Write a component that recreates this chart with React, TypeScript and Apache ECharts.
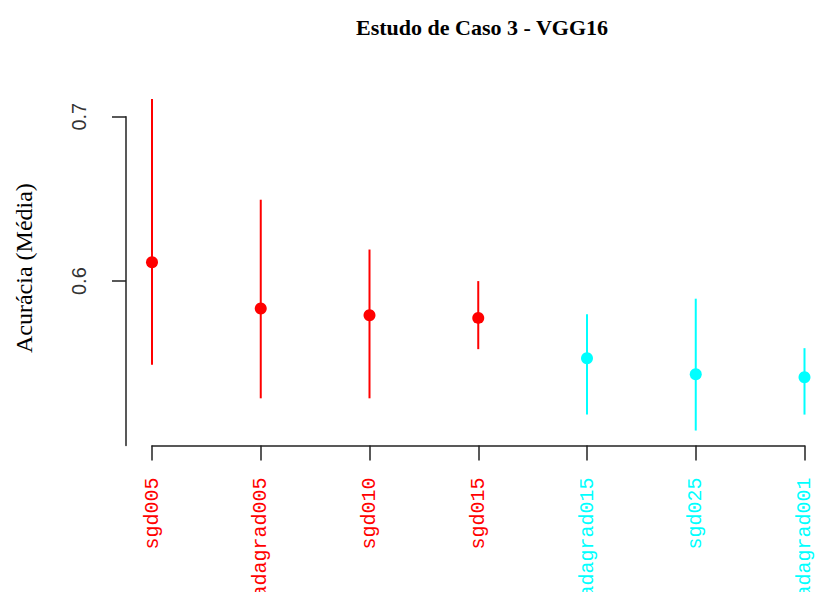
import React, { useEffect, useRef } from "react";
import * as echarts from "echarts";

const categories = ["sgd005", "adagrad005", "sgd010", "sgd015", "adagrad015", "sgd025", "adagrad001"];
const groups = ["red", "red", "red", "red", "cyan", "cyan", "cyan"];
const means = [0.6115, 0.5833, 0.5792, 0.5776, 0.5531, 0.5433, 0.5415];
const lows = [0.5491, 0.5287, 0.5287, 0.5586, 0.5188, 0.5091, 0.5188];
const highs = [0.7107, 0.6495, 0.6192, 0.6, 0.5798, 0.5893, 0.5592];
const yTicks = [0.6, 0.7];

const colorOf = (g: string) => (g === "red" ? "#ff0000" : "#00ffff");

export default function App() {
  const ref = useRef<HTMLDivElement>(null);
  useEffect(() => {
    if (!ref.current) return;
    const chart = echarts.init(ref.current, null, { renderer: "svg" });
    chart.setOption({
      animation: false,
      backgroundColor: "#ffffff",
      title: {
        text: "Estudo de Caso 3 - VGG16",
        left: 477,
        top: 11,
        textAlign: "center",
        textStyle: { fontFamily: "Liberation Serif", fontWeight: "bold", fontSize: 22, color: "#000" },
      },
      grid: { left: 152, right: 16.5, top: 116.7, bottom: 146.5, containLabel: false, outerBoundsMode: "none" },
      xAxis: {
        type: "category",
        data: categories,
        boundaryGap: false,
        axisLine: { show: true, lineStyle: { color: "#222", width: 1.5 } },
        axisTick: { show: true, length: 15, alignWithLabel: true, lineStyle: { color: "#222", width: 1.5 } },
        axisLabel: {
          rotate: 90,
          margin: 32,
          interval: 0,
          fontFamily: "Liberation Mono",
          fontSize: 20,
          color: (_v: string, i: number) => colorOf(groups[i]),
        },
        splitLine: { show: false },
      },
      yAxis: {
        type: "value",
        min: 0.5,
        max: 0.7,
        interval: 0.1,
        offset: 26,
        name: "Acurácia (Média)",
        nameLocation: "middle",
        nameRotate: 90,
        nameGap: 90,
        nameTextStyle: { fontFamily: "Liberation Serif", fontSize: 24, color: "#000", padding: [0, 0, 0, 26] },
        axisLine: { show: true, lineStyle: { color: "#222", width: 1.5 } },
        axisTick: { show: true, length: 14, customValues: yTicks, lineStyle: { color: "#222", width: 1.5 } },
        axisLabel: {
          rotate: 90,
          margin: 37,
          customValues: yTicks,
          fontFamily: "Liberation Sans",
          fontSize: 20,
          color: "#333",
          formatter: (v: number) => v.toFixed(1),
        },
        splitLine: { show: false },
      },
      series: [
        {
          type: "custom",
          clip: false,
          data: categories.map((_c, i) => [i, lows[i], highs[i]]),
          renderItem: (params: any, api: any) => {
            const i = api.value(0);
            const p1 = api.coord([i, api.value(1)]);
            const p2 = api.coord([i, api.value(2)]);
            return {
              type: "line",
              shape: { x1: p1[0], y1: p1[1], x2: p2[0], y2: p2[1] },
              style: { stroke: colorOf(groups[params.dataIndex]), lineWidth: 2 },
            };
          },
          z: 2,
        },
        {
          type: "scatter",
          clip: false,
          symbol: "circle",
          symbolSize: 12,
          data: means.map((m, i) => ({ value: [i, m], itemStyle: { color: colorOf(groups[i]), opacity: 1 } })),
          z: 3,
        },
      ],
    });
    return () => chart.dispose();
  }, []);
  return <div ref={ref} style={{ width: 821, height: 592, position: "absolute", left: 0, top: 0 }} />;
}
